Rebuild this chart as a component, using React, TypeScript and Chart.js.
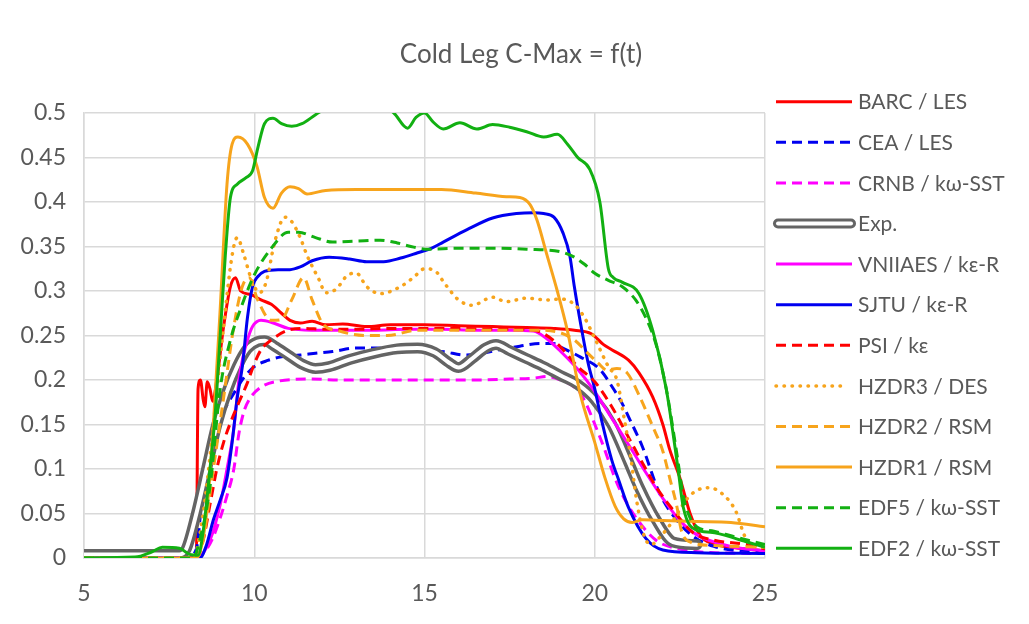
import React, { useEffect, useRef } from "react";
import { Chart, registerables } from "chart.js";

Chart.register(...registerables);

type Pt = [number, number];

// Time (s) vs. maximum concentration in the cold leg, one array per contribution
const BARC_LES: Pt[] = [
  [5, 0], [8.0, 0], [8.3, 0.005], [8.35, 0.19], [8.42, 0.2], [8.5, 0.178], [8.55, 0.17], [8.62, 0.198],
  [8.7, 0.19], [8.78, 0.176], [8.9, 0.2], [9.1, 0.26], [9.3, 0.305], [9.45, 0.315], [9.6, 0.3],
  [9.9, 0.296], [10.2, 0.29], [10.5, 0.285], [10.8, 0.275], [11.05, 0.267], [11.35, 0.264],
  [11.7, 0.266], [12.1, 0.262], [12.6, 0.263], [13.3, 0.26], [14, 0.262], [15, 0.262], [16, 0.261],
  [17, 0.26], [18, 0.259], [18.8, 0.258], [19.4, 0.256], [19.9, 0.252], [20.25, 0.24], [20.5, 0.234],
  [21.0, 0.222], [21.3, 0.208], [21.7, 0.181], [22.0, 0.15], [22.2, 0.122], [22.5, 0.09], [22.8, 0.05],
  [23.1, 0.025], [23.5, 0.016], [24, 0.012], [25, 0.008],
];

const CEA_LES: Pt[] = [
  [5, 0], [8.0, 0], [8.3, 0.01], [8.45, 0.06], [8.6, 0.1], [8.8, 0.14], [9.1, 0.165], [9.4, 0.185],
  [9.7, 0.203], [10.0, 0.215], [10.4, 0.222], [10.8, 0.226], [11.35, 0.228], [11.8, 0.23], [12.3, 0.232],
  [13.0, 0.236], [13.6, 0.236], [14.3, 0.232], [14.9, 0.232], [15.45, 0.232], [16.2, 0.228], [16.7, 0.23],
  [17.2, 0.234], [17.8, 0.238], [18.4, 0.241], [18.8, 0.241], [19.0, 0.237], [19.57, 0.226], [20.15, 0.212],
  [20.5, 0.193], [20.8, 0.174], [21.0, 0.158], [21.4, 0.125], [21.9, 0.073], [22.4, 0.043], [22.9, 0.024],
  [23.5, 0.013], [24, 0.009], [25, 0.006],
];

const CRNB_SST: Pt[] = [
  [5, 0], [8.3, 0], [8.6, 0.01], [8.8, 0.024], [9.0, 0.045], [9.2, 0.07], [9.4, 0.1], [9.55, 0.14],
  [9.7, 0.165], [9.85, 0.178], [10.2, 0.192], [10.75, 0.199], [11.7, 0.201], [12.5, 0.2], [13.5, 0.2],
  [14.5, 0.2], [15.5, 0.2], [16.5, 0.2], [17.5, 0.201], [18.2, 0.202], [18.6, 0.204], [19.0, 0.2],
  [19.4, 0.192], [19.6, 0.184], [20.15, 0.136], [20.7, 0.08], [21.2, 0.046], [21.8, 0.02], [22.5, 0.01],
  [23.5, 0.006], [25, 0.005],
];

const EXP: Pt[] = [
  [5, 0.004], [7.8, 0.004], [8.0, 0.01], [8.3, 0.05], [8.6, 0.1], [8.9, 0.15], [9.2, 0.187], [9.5, 0.215],
  [9.8, 0.235], [10.1, 0.243], [10.3, 0.244], [10.6, 0.238], [11.0, 0.228], [11.4, 0.218], [11.8, 0.213],
  [12.2, 0.215], [12.8, 0.223], [13.5, 0.23], [14.2, 0.235], [14.8, 0.236], [15.3, 0.231], [15.7, 0.22],
  [16.0, 0.214], [16.4, 0.224], [16.8, 0.236], [17.1, 0.24], [17.5, 0.233], [18.0, 0.224], [18.5, 0.215],
  [19.0, 0.205], [19.5, 0.195], [20.0, 0.178], [20.5, 0.15], [21.0, 0.107], [21.3, 0.08], [21.8, 0.043],
  [22.3, 0.018], [23.0, 0.015],
];

const VNIIAES_KER: Pt[] = [
  [5, 0], [8.3, 0], [8.7, 0.02], [9.0, 0.06], [9.2, 0.1], [9.4, 0.145], [9.55, 0.2], [9.67, 0.226],
  [9.8, 0.245], [9.95, 0.26], [10.2, 0.267], [10.56, 0.264], [11.0, 0.258], [11.7, 0.256], [12.5, 0.256],
  [13.5, 0.256], [14.5, 0.257], [15.5, 0.257], [16.5, 0.256], [17.5, 0.256], [18.2, 0.255], [18.6, 0.246],
  [19.0, 0.232], [19.5, 0.212], [20.0, 0.187], [20.5, 0.157], [21.0, 0.127], [21.5, 0.096], [22.0, 0.067],
  [22.5, 0.042], [23.0, 0.026], [24.0, 0.013], [25, 0.008],
];

const SJTU_KER: Pt[] = [
  [5, 0], [8.4, 0], [8.6, 0.015], [8.8, 0.043], [9.0, 0.065], [9.2, 0.09], [9.35, 0.13], [9.5, 0.18],
  [9.65, 0.215], [9.8, 0.27], [9.95, 0.305], [10.1, 0.316], [10.3, 0.322], [10.7, 0.324], [11.05, 0.324],
  [11.35, 0.327], [11.7, 0.334], [12.2, 0.338], [12.8, 0.336], [13.3, 0.333], [13.8, 0.333], [14.3, 0.337],
  [14.8, 0.343], [15.2, 0.348], [15.55, 0.355], [16.25, 0.369], [17.0, 0.382], [17.7, 0.387], [18.2, 0.388],
  [18.5, 0.387], [18.8, 0.383], [19.07, 0.365], [19.27, 0.339], [19.4, 0.305], [19.6, 0.26], [19.8, 0.22],
  [20.0, 0.19], [20.2, 0.155], [20.5, 0.11], [20.7, 0.088], [21.0, 0.056], [21.5, 0.022], [22.0, 0.009],
  [23.0, 0.006], [25, 0.005],
];

const PSI_KE: Pt[] = [
  [5, 0], [8.3, 0], [8.5, 0.02], [8.7, 0.06], [8.9, 0.1], [9.1, 0.13], [9.3, 0.152], [9.55, 0.175],
  [9.8, 0.197], [10.0, 0.218], [10.2, 0.234], [10.5, 0.245], [11.0, 0.256], [11.5, 0.258], [12.0, 0.257],
  [13, 0.257], [14, 0.258], [15, 0.258], [16, 0.258], [17, 0.257], [18, 0.257], [18.5, 0.252], [19.0, 0.237],
  [19.5, 0.215], [20.0, 0.198], [20.5, 0.17], [21.0, 0.135], [21.5, 0.1], [21.8, 0.08], [22.3, 0.054],
  [22.9, 0.028], [23.5, 0.02], [24.5, 0.015], [25, 0.01],
];

const HZDR3_DES: Pt[] = [
  [5, 0], [8.2, 0], [8.5, 0.05], [8.8, 0.15], [9.1, 0.26], [9.35, 0.34], [9.5, 0.36], [9.7, 0.34],
  [9.9, 0.315], [10.15, 0.298], [10.35, 0.31], [10.6, 0.355], [10.9, 0.383], [11.1, 0.378], [11.35, 0.36],
  [11.55, 0.34], [11.9, 0.313], [12.1, 0.298], [12.4, 0.302], [12.75, 0.318], [13.0, 0.32], [13.3, 0.305],
  [13.7, 0.297], [14.3, 0.305], [14.7, 0.316], [15.0, 0.325], [15.3, 0.323], [15.6, 0.308], [16.0, 0.29],
  [16.4, 0.284], [17.0, 0.293], [17.4, 0.288], [18.0, 0.292], [18.6, 0.29], [19.0, 0.291], [19.4, 0.285],
  [19.7, 0.27], [20.0, 0.247], [20.4, 0.215], [20.65, 0.2], [20.85, 0.16], [21.05, 0.115], [21.25, 0.06],
  [21.45, 0.025], [21.65, 0.015], [21.95, 0.025], [22.3, 0.042], [22.7, 0.066], [23.0, 0.076],
  [23.35, 0.079], [23.75, 0.072], [24.15, 0.052], [24.4, 0.025], [24.6, 0.015], [25, 0.012],
];

const HZDR2_RSM: Pt[] = [
  [5, 0], [8.3, 0], [8.5, 0.02], [8.8, 0.1], [9.1, 0.18], [9.4, 0.26], [9.65, 0.305], [9.85, 0.315],
  [10.1, 0.29], [10.5, 0.267], [10.8, 0.268], [11.1, 0.29], [11.45, 0.315], [11.7, 0.29], [12.0, 0.264],
  [12.5, 0.255], [13.3, 0.25], [13.9, 0.25], [14.8, 0.256], [16.2, 0.256], [17.5, 0.256], [18.4, 0.256],
  [19.0, 0.253], [19.4, 0.245], [19.8, 0.23], [20.1, 0.219], [20.36, 0.211], [20.65, 0.213], [20.95, 0.208],
  [21.3, 0.183], [21.7, 0.148], [22.0, 0.12], [22.2, 0.09], [22.4, 0.06], [22.55, 0.03], [22.8, 0.018],
  [23.5, 0.014], [25, 0.012],
];

const HZDR1_RSM: Pt[] = [
  [5, 0], [8.3, 0], [8.6, 0.05], [8.8, 0.15], [9.0, 0.28], [9.2, 0.42], [9.35, 0.465], [9.52, 0.473],
  [9.8, 0.465], [10.08, 0.44], [10.3, 0.405], [10.55, 0.393], [10.8, 0.41], [11.05, 0.417], [11.3, 0.415],
  [11.55, 0.409], [12.1, 0.413], [13, 0.414], [14, 0.414], [15, 0.414], [15.5, 0.414], [16.5, 0.41],
  [17.4, 0.406], [17.8, 0.405], [18.1, 0.397], [18.3, 0.38], [18.6, 0.34], [18.9, 0.3], [19.2, 0.255],
  [19.57, 0.185], [20.0, 0.13], [20.3, 0.09], [20.6, 0.058], [20.85, 0.044], [21.1, 0.04], [21.4, 0.043],
  [22, 0.042], [23, 0.041], [24, 0.04], [25, 0.035],
];

const EDF5_SST: Pt[] = [
  [5, 0], [8.2, 0], [8.4, 0.02], [8.7, 0.08], [9.0, 0.19], [9.3, 0.245], [9.6, 0.28], [10.0, 0.318],
  [10.5, 0.348], [11.0, 0.366], [11.3, 0.366], [11.8, 0.36], [12.3, 0.355], [13, 0.356], [13.7, 0.357],
  [14.2, 0.354], [14.6, 0.35], [15.1, 0.347], [16, 0.348], [17, 0.348], [18, 0.347], [19, 0.344],
  [19.4, 0.338], [19.7, 0.33], [20.0, 0.32], [20.4, 0.312], [20.8, 0.305], [21.2, 0.29], [21.5, 0.27],
  [21.8, 0.24], [22.1, 0.19], [22.4, 0.12], [22.6, 0.07], [22.8, 0.045], [23.0, 0.035], [23.5, 0.03],
  [24, 0.025], [24.5, 0.02], [25, 0.015],
];

const EDF2_SST: Pt[] = [
  [5, 0], [6.5, 0.001], [7.0, 0.007], [7.3, 0.012], [7.8, 0.011], [8.1, 0.004], [8.35, 0.003], [8.5, 0.03],
  [8.7, 0.1], [8.85, 0.16], [9.0, 0.25], [9.15, 0.34], [9.3, 0.405], [9.5, 0.42], [9.75, 0.427],
  [9.95, 0.435], [10.1, 0.46], [10.3, 0.488], [10.55, 0.494], [10.8, 0.488], [11.1, 0.485], [11.4, 0.488],
  [11.8, 0.498], [12.2, 0.507], [13.0, 0.51], [13.8, 0.507], [14.1, 0.5], [14.5, 0.483], [14.75, 0.495],
  [15.0, 0.5], [15.25, 0.49], [15.55, 0.482], [16.04, 0.489], [16.54, 0.482], [17.0, 0.487], [17.5, 0.484],
  [18.0, 0.479], [18.5, 0.473], [18.9, 0.476], [19.2, 0.465], [19.5, 0.45], [19.85, 0.437], [20.15, 0.4],
  [20.4, 0.325], [20.55, 0.315], [20.8, 0.31], [21.3, 0.297], [21.7, 0.256], [22.1, 0.19], [22.45, 0.099],
  [22.6, 0.057], [23.0, 0.031], [23.4, 0.029], [24.3, 0.02], [25, 0.012],
];

// Axis ticks
const xTickValues = [5, 10, 15, 20, 25];
const yTickValues = [0, 0.05, 0.1, 0.15, 0.2, 0.25, 0.3, 0.35, 0.4, 0.45, 0.5];
const yTickLabels = ["0", "0.05", "0.1", "0.15", "0.2", "0.25", "0.3", "0.35", "0.4", "0.45", "0.5"];

const TITLE = "Cold Leg C-Max = f(t)";

const RED = "#ff0000";
const BLUE = "#0000f0";
const MAGENTA = "#ff00ff";
const ORANGE = "#f7a41c";
const GREEN = "#12b012";
const GRAY = "#646464";
const TEXT = "#595959";
const GRID = "#d9d9d9";
const FONT = "Lato, 'Open Sans', sans-serif";

const DASH = [10, 6];
const DOT = [0.5, 7.5];

type Series = { label: string; data: Pt[]; color: string; dash: number[]; double?: boolean };

const SERIES: Series[] = [
  { label: "BARC / LES", data: BARC_LES, color: RED, dash: [] },
  { label: "CEA / LES", data: CEA_LES, color: BLUE, dash: DASH },
  { label: "CRNB / kω-SST", data: CRNB_SST, color: MAGENTA, dash: DASH },
  { label: "Exp.", data: EXP, color: GRAY, dash: [], double: true },
  { label: "VNIIAES / kε-R", data: VNIIAES_KER, color: MAGENTA, dash: [] },
  { label: "SJTU / kε-R", data: SJTU_KER, color: BLUE, dash: [] },
  { label: "PSI / kε", data: PSI_KE, color: RED, dash: DASH },
  { label: "HZDR3 / DES", data: HZDR3_DES, color: ORANGE, dash: DOT },
  { label: "HZDR2 / RSM", data: HZDR2_RSM, color: ORANGE, dash: DASH },
  { label: "HZDR1 / RSM", data: HZDR1_RSM, color: ORANGE, dash: [] },
  { label: "EDF5 / kω-SST", data: EDF5_SST, color: GREEN, dash: DASH },
  { label: "EDF2 / kω-SST", data: EDF2_SST, color: GREEN, dash: [] },
];

const W = 1029;
const H = 624;
const PLOT_LEFT = 84;
const PLOT_RIGHT = 765;
const PLOT_TOP = 113;
const PLOT_BOTTOM = 558;

// Title and the side legend are painted directly on the canvas
const decorPlugin = {
  id: "decor",
  afterDraw(chart: any) {
    const ctx: CanvasRenderingContext2D = chart.ctx;
    ctx.save();
    ctx.fillStyle = TEXT;
    ctx.font = `26px ${FONT}`;
    ctx.textAlign = "center";
    ctx.textBaseline = "middle";
    ctx.fillText(TITLE, 521, 55);

    const x0 = 776;
    const x1 = 852;
    const top = 101.7;
    const step = 40.6;
    SERIES.forEach((s, i) => {
      const y = top + i * step;
      ctx.save();
      if (s.double) {
        ctx.lineCap = "round";
        ctx.beginPath();
        ctx.moveTo(x0 + 2, y);
        ctx.lineTo(x1 - 1, y);
        ctx.strokeStyle = s.color;
        ctx.lineWidth = 10;
        ctx.stroke();
        ctx.strokeStyle = "#ffffff";
        ctx.lineWidth = 4;
        ctx.stroke();
      } else {
        ctx.beginPath();
        ctx.setLineDash(s.dash);
        ctx.lineCap = s.dash === DOT ? "round" : "butt";
        ctx.moveTo(x0, y);
        ctx.lineTo(s.dash === DOT ? x1 - 7 : x1, y);
        ctx.strokeStyle = s.color;
        ctx.lineWidth = s.dash === DOT ? 3.5 : 3;
        ctx.stroke();
      }
      ctx.restore();
      ctx.fillStyle = TEXT;
      ctx.font = `21px ${FONT}`;
      ctx.textAlign = "left";
      ctx.textBaseline = "middle";
      ctx.fillText(s.label, 858, y + 1);
    });
    ctx.restore();
  },
};

export default function App() {
  const canvasRef = useRef<HTMLCanvasElement | null>(null);

  useEffect(() => {
    const canvas = canvasRef.current;
    if (!canvas) return;
    const n = SERIES.length;
    const datasets: any[] = [];
    SERIES.forEach((s, i) => {
      const pts = s.data.map(([x, y]) => ({ x, y }));
      const base = {
        data: pts,
        pointRadius: 0,
        pointHoverRadius: 0,
        fill: false,
        cubicInterpolationMode: "monotone",
        borderJoinStyle: "round",
      };
      if (s.double) {
        datasets.push({
          ...base,
          label: s.label,
          borderColor: s.color,
          borderWidth: 11,
          borderCapStyle: "round",
          order: (n - i) * 2,
        });
        datasets.push({
          ...base,
          label: s.label + " ",
          borderColor: "#ffffff",
          borderWidth: 4,
          borderCapStyle: "round",
          order: (n - i) * 2 - 1,
        });
      } else {
        datasets.push({
          ...base,
          label: s.label,
          borderColor: s.color,
          borderWidth: s.dash === DOT ? 3.5 : 3,
          borderDash: s.dash,
          borderCapStyle: s.dash === DOT ? "round" : "butt",
          order: (n - i) * 2,
        });
      }
    });

    const chart = new Chart(canvas, {
      type: "line",
      data: { datasets },
      options: {
        responsive: true,
        maintainAspectRatio: false,
        animation: false,
        events: [],
        layout: {
          padding: { top: PLOT_TOP, right: W - PLOT_RIGHT, bottom: 0, left: 0 },
        },
        plugins: {
          legend: { display: false },
          title: { display: false },
          tooltip: { enabled: false },
        },
        scales: {
          x: {
            type: "linear",
            min: 5,
            max: 25,
            afterBuildTicks: (scale: any) => {
              scale.ticks = xTickValues.map((v) => ({ value: v }));
            },
            afterFit: (scale: any) => {
              scale.height = H - PLOT_BOTTOM;
            },
            grid: { color: GRID, lineWidth: 1.5, drawTicks: false },
            border: { color: GRID, width: 1.5 },
            ticks: {
              color: TEXT,
              font: { family: FONT, size: 23 },
              padding: 22,
              maxRotation: 0,
              callback: (v: any) => String(v),
            },
          },
          y: {
            type: "linear",
            min: 0,
            max: 0.5,
            afterBuildTicks: (scale: any) => {
              scale.ticks = yTickValues.map((v) => ({ value: v }));
            },
            afterFit: (scale: any) => {
              scale.width = PLOT_LEFT;
            },
            grid: { color: GRID, lineWidth: 1.5, drawTicks: false },
            border: { color: GRID, width: 1.5 },
            ticks: {
              color: TEXT,
              font: { family: FONT, size: 23 },
              padding: 18,
              callback: (v: any) => {
                const idx = yTickValues.findIndex((t) => Math.abs(t - Number(v)) < 1e-9);
                return idx >= 0 ? yTickLabels[idx] : "";
              },
            },
          },
        },
      },
      plugins: [decorPlugin],
    });
    return () => chart.destroy();
  }, []);

  return (
    <div
      style={{
        position: "fixed",
        left: 0,
        top: 0,
        width: W,
        height: H,
        background: "#ffffff",
      }}
    >
      <canvas ref={canvasRef} />
    </div>
  );
}
